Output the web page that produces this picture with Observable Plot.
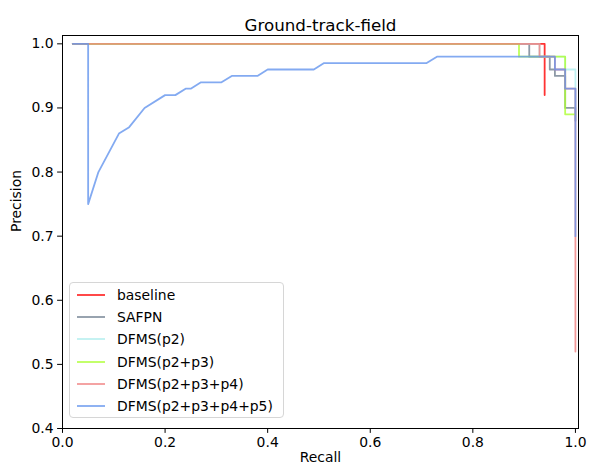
<!DOCTYPE html>
<html>
<head>
<meta charset="utf-8">
<script src="https://cdn.jsdelivr.net/npm/d3@7"></script>
<script src="https://cdn.jsdelivr.net/npm/@observablehq/plot@0.6"></script>
<style>
  html, body { margin: 0; padding: 0; background: white; }
  #wrap { position: relative; width: 589px; height: 470px; font-family: "DejaVu Sans", sans-serif; }
  #legend { position: absolute; left: 69px; top: 282px; width: 215px; height: 136px;
            border: 1px solid #d6d6d6; border-radius: 4px; background: rgba(255,255,255,0.8); box-sizing: border-box; }
  .row { position: absolute; left: 0; width: 100%; height: 20px; font-size: 13.9px; color: #000; white-space: nowrap; }
  .row svg { position: absolute; left: 6px; top: 0; }
  .lab { position: absolute; left: 47px; top: 1px; line-height: 16px; }
</style>
</head>
<body>
<div id="wrap"></div>
<script>
const seriesNames = ["baseline", "SAFPN", "DFMS(p2)", "DFMS(p2+p3)", "DFMS(p2+p3+p4)", "DFMS(p2+p3+p4+p5)"];
const seriesColors = ["#ff0000", "#708090", "#afeeee", "#adff2f", "#f08080", "#6495ed"];

const baselineRecall = [0.02, 0.94, 0.94];
const baselinePrecision = [1.0, 1.0, 0.92];

const safpnRecall = [0.02, 0.91, 0.91, 0.95, 0.95, 0.96, 0.96, 0.98, 0.98, 1.0, 1.0];
const safpnPrecision = [1.0, 1.0, 0.98, 0.98, 0.96, 0.96, 0.95, 0.95, 0.90, 0.90, 0.88];

const p2Recall = [0.02, 0.93, 0.93, 0.98, 0.98, 1.0, 1.0];
const p2Precision = [1.0, 1.0, 0.98, 0.98, 0.96, 0.96, 0.90];

const p23Recall = [0.02, 0.89, 0.89, 0.98, 0.98, 1.0];
const p23Precision = [1.0, 1.0, 0.98, 0.98, 0.89, 0.89];

const p234Recall = [0.02, 0.93, 0.93, 0.96, 0.96, 0.98, 0.98, 1.0, 1.0];
const p234Precision = [1.0, 1.0, 0.98, 0.98, 0.96, 0.96, 0.93, 0.93, 0.52];

const p2345Recall = [0.02, 0.05, 0.05, 0.07, 0.11, 0.13, 0.16, 0.20, 0.22, 0.24, 0.25, 0.27, 0.31, 0.33, 0.38, 0.40, 0.49, 0.51, 0.71, 0.73, 0.96, 0.96, 0.98, 0.98, 1.0, 1.0];
const p2345Precision = [1.0, 1.0, 0.75, 0.80, 0.86, 0.87, 0.90, 0.92, 0.92, 0.93, 0.93, 0.94, 0.94, 0.95, 0.95, 0.96, 0.96, 0.97, 0.97, 0.98, 0.98, 0.96, 0.96, 0.93, 0.93, 0.70];

const xTicks = [0.0, 0.2, 0.4, 0.6, 0.8, 1.0];
const yTicks = [0.4, 0.5, 0.6, 0.7, 0.8, 0.9, 1.0];
const titleText = "Ground-track-field";
const xLabel = "Recall";
const yLabel = "Precision";

const recalls = [baselineRecall, safpnRecall, p2Recall, p23Recall, p234Recall, p2345Recall];
const precisions = [baselinePrecision, safpnPrecision, p2Precision, p23Precision, p234Precision, p2345Precision];

const rows = seriesNames.flatMap((s, i) =>
  recalls[i].map((r, j) => ({series: s, recall: r, precision: precisions[i][j]})));

const fmt = d3.format(".1f");

const chart = Plot.plot({
  width: 589,
  height: 470,
  marginLeft: 62,
  marginRight: 11,
  marginTop: 35,
  marginBottom: 42,
  style: {fontFamily: "DejaVu Sans, sans-serif", fontSize: "13.9px", color: "black", background: "white"},
  x: {domain: [0, 1.006]},
  y: {domain: [0.4, 1.013]},
  color: {domain: seriesNames, range: seriesColors},
  marks: [
    Plot.line(rows, {x: "recall", y: "precision", z: "series", stroke: "series",
      strokeWidth: 1.8, strokeOpacity: 0.8, curve: "linear"}),
    Plot.frame({stroke: "black", strokeWidth: 1}),
    Plot.axisX({ticks: xTicks, tickFormat: fmt, tickSize: 4.9, tickPadding: 4, label: null, stroke: "black"}),
    Plot.axisY({ticks: yTicks, tickFormat: fmt, tickSize: 4.9, tickPadding: 4, label: null, stroke: "black"}),
    Plot.text([titleText], {text: d => d, frameAnchor: "top", dy: -16, fontSize: 16.7, fill: "black"}),
    Plot.text([xLabel], {text: d => d, frameAnchor: "bottom", dy: 33, fontSize: 13.9, fill: "black"}),
    Plot.text([yLabel], {text: d => d, frameAnchor: "left", dx: -46, rotate: -90, fontSize: 13.9, fill: "black"})
  ]
});

const wrap = document.getElementById("wrap");
wrap.appendChild(chart);

const legend = document.createElement("div");
legend.id = "legend";
seriesNames.forEach((name, i) => {
  const row = document.createElement("div");
  row.className = "row";
  row.style.top = (3 + i * 22.2) + "px";
  row.innerHTML = `<svg width="30" height="20"><line x1="1" x2="29" y1="9" y2="9" stroke="${seriesColors[i]}" stroke-opacity="0.8" stroke-width="1.8"/></svg>`;
  const lab = document.createElement("div");
  lab.className = "lab";
  lab.textContent = name;
  row.appendChild(lab);
  legend.appendChild(row);
});
wrap.appendChild(legend);
</script>
</body>
</html>
